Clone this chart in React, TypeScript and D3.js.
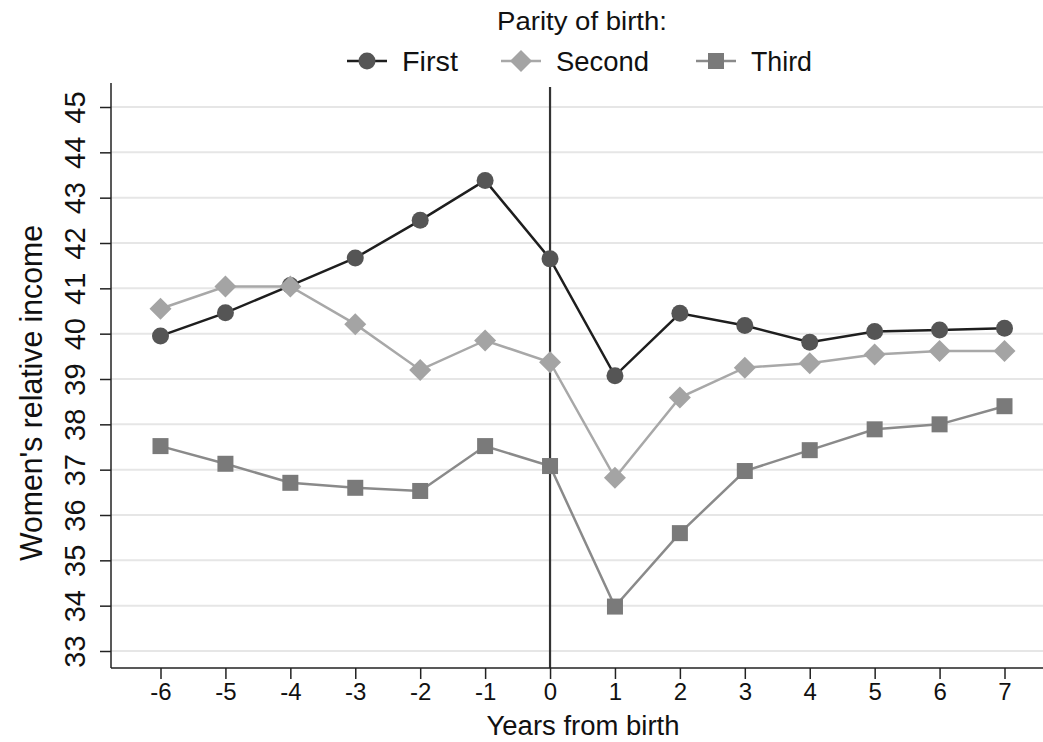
import React, { useEffect, useRef } from 'react';
import * as d3 from 'd3';

const years = [-6, -5, -4, -3, -2, -1, 0, 1, 2, 3, 4, 5, 6, 7];
const firstBirth = [39.95, 40.46, 41.06, 41.67, 42.5, 43.38, 41.65, 39.07, 40.45, 40.18, 39.81, 40.05, 40.08, 40.12];
const secondBirth = [40.55, 41.04, 41.04, 40.21, 39.2, 39.85, 39.37, 36.82, 38.59, 39.25, 39.35, 39.54, 39.62, 39.62];
const thirdBirth = [37.52, 37.13, 36.71, 36.6, 36.53, 37.52, 37.08, 33.98, 35.6, 36.97, 37.43, 37.89, 38.0, 38.4];
const yTicks = [33, 34, 35, 36, 37, 38, 39, 40, 41, 42, 43, 44, 45];

const series = [
  { name: 'First', values: firstBirth, line: '#1e1e1e', fill: '#555555', shape: 'circle' },
  { name: 'Second', values: secondBirth, line: '#a8a8a8', fill: '#a4a4a4', shape: 'diamond' },
  { name: 'Third', values: thirdBirth, line: '#8a8a8a', fill: '#7a7a7a', shape: 'square' },
];

const W = 1043;
const H = 742;
const FONT = "'Liberation Sans', Arial, sans-serif";

function drawMarker(g: any, shape: string, x: number, y: number, fill: string) {
  if (shape === 'circle') {
    g.append('circle').attr('cx', x).attr('cy', y).attr('r', 8.5).attr('fill', fill);
  } else if (shape === 'diamond') {
    const s = 11;
    g.append('path')
      .attr('d', `M${x},${y - s}L${x + s},${y}L${x},${y + s}L${x - s},${y}Z`)
      .attr('fill', fill);
  } else {
    g.append('rect').attr('x', x - 8).attr('y', y - 8).attr('width', 16).attr('height', 16).attr('fill', fill);
  }
}

export default function App() {
  const svgRef = useRef<SVGSVGElement>(null);

  useEffect(() => {
    if (!svgRef.current) return;
    const svg = d3.select(svgRef.current);
    svg.selectAll('*').remove();

    const plot = { left: 111, right: W, top: 87, bottom: 668 };

    const x = d3.scaleLinear().domain([-6, 7]).range([160.5, 1004.5]);
    const y = d3.scaleLinear().domain([33, 45]).range([651, 107]);

    // grid lines
    svg.append('g')
      .selectAll('line')
      .data(yTicks)
      .enter()
      .append('line')
      .attr('x1', plot.left)
      .attr('x2', plot.right)
      .attr('y1', (d: number) => y(d))
      .attr('y2', (d: number) => y(d))
      .attr('stroke', '#e6e6e6')
      .attr('stroke-width', 2);

    // vertical reference at 0
    svg.append('line')
      .attr('x1', x(0)).attr('x2', x(0))
      .attr('y1', plot.top).attr('y2', plot.bottom)
      .attr('stroke', '#333')
      .attr('stroke-width', 2.2);

    // y axis
    const yAxis = svg.append('g')
      .attr('transform', `translate(${plot.left},0)`)
      .call(d3.axisLeft(y).tickValues(yTicks).tickSize(11).tickPadding(6).tickFormat((d: any) => String(d)));
    yAxis.select('.domain').remove();
    yAxis.selectAll('.tick line').attr('stroke', '#222').attr('stroke-width', 1.5);
    yAxis.selectAll('.tick text')
      .attr('font-family', FONT)
      .attr('font-size', 29)
      .attr('fill', '#111')
      .attr('text-anchor', 'middle')
      .attr('x', null)
      .attr('dy', null)
      .attr('transform', 'translate(-34,0) rotate(-90)')
      .attr('dominant-baseline', 'middle');
    svg.append('line')
      .attr('x1', plot.left).attr('x2', plot.left)
      .attr('y1', plot.top - 4).attr('y2', plot.bottom)
      .attr('stroke', '#222').attr('stroke-width', 1.5);

    // x axis
    const xAxis = svg.append('g')
      .attr('transform', `translate(0,${plot.bottom})`)
      .call(d3.axisBottom(x).tickValues(years).tickSize(11).tickPadding(4).tickFormat((d: any) => String(d)));
    xAxis.select('.domain').remove();
    xAxis.selectAll('.tick line').attr('stroke', '#222').attr('stroke-width', 1.5);
    xAxis.selectAll('.tick text')
      .attr('font-family', FONT)
      .attr('font-size', 24)
      .attr('fill', '#111');
    svg.append('line')
      .attr('x1', plot.left).attr('x2', plot.right)
      .attr('y1', plot.bottom).attr('y2', plot.bottom)
      .attr('stroke', '#222').attr('stroke-width', 1.5);

    // series
    const line = d3.line<number>()
      .x((_d: number, i: number) => x(years[i]))
      .y((d: number) => y(d));

    series.forEach((s) => {
      svg.append('path')
        .datum(s.values)
        .attr('d', line)
        .attr('fill', 'none')
        .attr('stroke', s.line)
        .attr('stroke-width', 2.5);
      const g = svg.append('g');
      s.values.forEach((v, i) => drawMarker(g, s.shape, x(years[i]), y(v), s.fill));
    });

    // axis titles
    svg.append('text')
      .attr('x', 583)
      .attr('y', 735)
      .attr('text-anchor', 'middle')
      .attr('font-family', FONT)
      .attr('font-size', 27)
      .attr('textLength', 193)
      .attr('lengthAdjust', 'spacingAndGlyphs')
      .attr('fill', '#111')
      .text('Years from birth');

    svg.append('text')
      .attr('transform', 'rotate(-90)')
      .attr('x', -393)
      .attr('y', 42)
      .attr('text-anchor', 'middle')
      .attr('font-family', FONT)
      .attr('font-size', 31)
      .attr('textLength', 336)
      .attr('lengthAdjust', 'spacingAndGlyphs')
      .attr('fill', '#111')
      .text("Women's relative income");

    // legend
    svg.append('text')
      .attr('x', 582)
      .attr('y', 30)
      .attr('text-anchor', 'middle')
      .attr('font-family', FONT)
      .attr('font-size', 26)
      .attr('textLength', 170)
      .attr('lengthAdjust', 'spacingAndGlyphs')
      .attr('fill', '#111')
      .text('Parity of birth:');

    const legendX = [367, 521, 716];
    const legendW = [56, 93, 61];
    series.forEach((s, i) => {
      const cx = legendX[i];
      const cy = 61;
      const lg = svg.append('g');
      lg.append('line')
        .attr('x1', cx - 20).attr('x2', cx + 20)
        .attr('y1', cy).attr('y2', cy)
        .attr('stroke', s.line).attr('stroke-width', 2.5);
      drawMarker(lg, s.shape, cx, cy, s.fill);
      lg.append('text')
        .attr('x', cx + 35)
        .attr('y', cy + 10)
        .attr('font-family', FONT)
        .attr('font-size', 28)
        .attr('textLength', legendW[i])
        .attr('lengthAdjust', 'spacingAndGlyphs')
        .attr('fill', '#111')
        .text(s.name);
    });
  }, []);

  return (
    <svg
      ref={svgRef}
      width={W}
      height={H}
      style={{ position: 'absolute', left: 0, top: 0, background: '#fff' }}
    />
  );
}
